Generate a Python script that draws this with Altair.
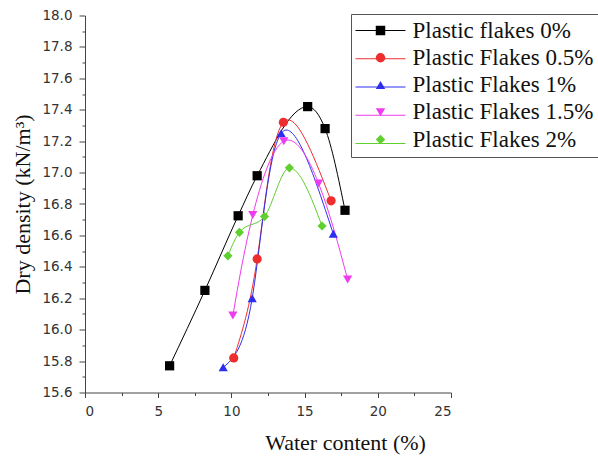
import altair as alt
import pandas as pd

series_names = ["Plastic flakes 0%", "Plastic Flakes 0.5%", "Plastic Flakes 1%",
                "Plastic Flakes 1.5%", "Plastic Flakes 2%"]
colors = ["#000000", "#ee2e2e", "#2e2eee", "#ee3cee", "#5fd02f"]
point_shapes = ["square", "circle", "triangle-up", "triangle-down", "diamond"]
curve_types = ["monotone", "natural", "natural", "natural", "monotone"]

# water content (%) and dry density (kN/m3) per series
w0 = [5.78, 8.19, 10.46, 11.76, 15.21, 16.40, 17.76]
d0 = [15.77, 16.25, 16.725, 16.98, 17.42, 17.28, 16.76]
w05 = [10.16, 11.76, 13.55, 16.81]
d05 = [15.82, 16.45, 17.32, 16.82]
w1 = [9.44, 11.42, 13.40, 16.96]
d1 = [15.76, 16.20, 17.25, 16.61]
w15 = [10.10, 11.46, 13.58, 15.96, 17.94]
d15 = [16.09, 16.73, 17.20, 16.93, 16.32]
w2 = [9.76, 10.55, 12.26, 13.96, 16.19]
d2 = [16.47, 16.62, 16.72, 17.03, 16.66]

x_ticks = [0, 2.5, 5, 7.5, 10, 12.5, 15, 17.5, 20, 22.5, 25]
y_ticks = [15.6, 15.7, 15.8, 15.9, 16.0, 16.1, 16.2, 16.3, 16.4, 16.5, 16.6, 16.7,
           16.8, 16.9, 17.0, 17.1, 17.2, 17.3, 17.4, 17.5, 17.6, 17.7, 17.8, 17.9, 18.0]

# second key (trailing space) so the line legend stays separate from the marker legend
line_keys = [n + " " for n in series_names]

rows = []
for name, key, ws, ds in zip(series_names, line_keys, [w0, w05, w1, w15, w2], [d0, d05, d1, d15, d2]):
    for w, d in zip(ws, ds):
        rows.append({"series": name, "series_l": key, "water": w, "density": d})
df = pd.DataFrame(rows)

x_enc = alt.X(
    "water:Q",
    scale=alt.Scale(domain=[0, 25], nice=False, zero=False),
    axis=alt.Axis(
        values=x_ticks,
        labelExpr="datum.value % 5 === 0 ? datum.label : ''",
        tickSize={"condition": {"test": "datum.value % 5 === 0", "value": 5}, "value": 3},
        title="Water content (%)",
        titleX=260, titleY=57, titleBaseline="alphabetic",
        titleFont="Liberation Serif", titleFontSize=22, titleFontWeight="normal",
        titleColor="#111",
        labelFont="DejaVu Sans", labelFontSize=13.5, labelColor="#333",
        labelPadding=7, grid=False, domainColor="#444", tickColor="#444",
    ),
)
y_enc = alt.Y(
    "density:Q",
    scale=alt.Scale(domain=[15.6, 18.0], nice=False, zero=False),
    axis=alt.Axis(
        values=y_ticks, format=".1f",
        labelExpr="round(datum.value * 10) % 2 === 0 ? datum.label : ''",
        tickSize={"condition": {"test": "round(datum.value * 10) % 2 === 0", "value": 6}, "value": 3},
        title="Dry density (kN/m³)",
        titleX=-56, titleBaseline="alphabetic",
        titleFont="Liberation Serif", titleFontSize=22, titleFontWeight="normal",
        titleColor="#111",
        labelFont="DejaVu Sans", labelFontSize=13.5, labelColor="#333",
        labelPadding=7, grid=False, domainColor="#444", tickColor="#444",
    ),
)

# legend of line segments (labels invisible and tiny so rows stay compact)
line_legend = alt.Legend(
    title=None, orient="none", legendX=266, legendY=-15.5, padding=5,
    symbolType="stroke", symbolSize=2500, symbolStrokeWidth=1, symbolOffset=-1,
    rowPadding=0.25, labelFont="Liberation Serif", labelFontSize=1,
    labelOpacity=0, labelLimit=400,
)
# legend of markers + labels, drawn on top of the line legend, with the frame
marker_legend = alt.Legend(
    title=None, orient="none", legendX=266, legendY=-1.5, padding=5,
    strokeColor="#555",
    symbolSize=90, symbolStrokeWidth=0, symbolOffset=13, labelOffset=20.5,
    rowPadding=3.25, labelFont="Liberation Serif", labelFontSize=23,
    labelColor="#111", labelLimit=400,
)

stroke_scale = alt.Scale(domain=line_keys, range=colors)
fill_scale = alt.Scale(domain=series_names, range=colors)
shape_scale = alt.Scale(domain=series_names, range=point_shapes)

layers = []
for name, ct in zip(series_names, curve_types):
    layers.append(
        alt.Chart(df).transform_filter(alt.datum.series == name)
        .mark_line(interpolate=ct, strokeWidth=1)
        .encode(x=x_enc, y=y_enc,
                stroke=alt.Stroke("series_l:N", scale=stroke_scale, legend=line_legend))
    )

points = alt.Chart(df).mark_point(filled=True, size=85, opacity=1).encode(
    x=x_enc, y=y_enc,
    fill=alt.Fill("series:N", scale=fill_scale, legend=marker_legend),
    shape=alt.Shape("series:N", scale=shape_scale, legend=marker_legend),
)
layers.append(points)

chart = alt.layer(*layers).properties(
    width=366, height=377,
    autosize=alt.AutoSizeParams(type="none"),
    padding={"left": 85, "top": 15.5, "right": 147, "bottom": 64.5},
    background="white",
).configure_view(stroke=None)

chart.save("out.html", embed_options={"renderer": "svg", "actions": False})
